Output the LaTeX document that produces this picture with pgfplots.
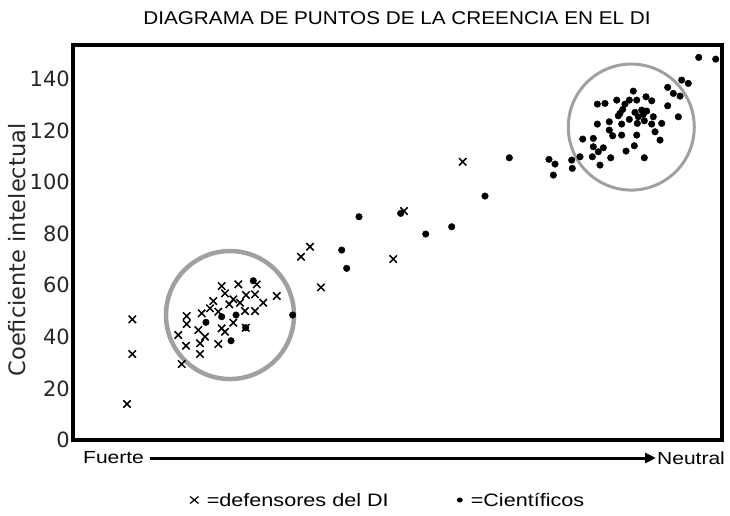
\documentclass[border=0pt]{standalone}
\usepackage{fontspec}
\setmainfont{Liberation Sans}
\newfontfamily\widesans[FakeStretch=1.2]{Liberation Sans}
\newfontfamily\titlesans[FakeStretch=1.12]{Liberation Sans}
\newfontfamily\dejavu{DejaVu Sans}
\usepackage{pgfplots}
\usepackage{pgfplotstable}
\pgfplotsset{compat=1.18}
\usetikzlibrary{arrows.meta}
\definecolor{circgray}{RGB}{160,160,160}

\pgfplotstableread{
x y
8.32 13.96
9.14 46.8
9.14 33.35
16.75 29.47
35.13 71.07
36.52 74.95
38.21 59.21
49.35 70.18
51.0 88.8
60.05 107.9
22.91 59.71
25.47 60.37
28.31 60.37
23.42 56.88
26.66 56.22
31.39 55.84
28.04 56.49
21.62 53.90
24.70 54.56
29.32 53.24
24.08 52.62
25.73 53.24
21.11 51.07
22.39 49.75
26.50 50.02
28.04 50.02
17.52 48.08
19.83 49.13
17.52 44.98
19.31 42.65
22.91 43.31
24.70 45.48
16.22 40.71
20.34 40.05
23.42 41.99
17.41 36.56
19.57 37.50
22.39 37.22
19.57 33.35
26.61 43.54
}\defensores

\pgfplotstableread{
x y
27.78 61.77
22.91 47.81
25.12 48.47
20.49 45.64
26.61 43.54
24.35 38.50
33.85 48.47
41.40 73.67
42.17 66.58
44.07 86.58
50.49 87.90
54.35 79.88
58.35 82.71
63.48 94.61
67.23 109.46
96.41 148.39
99.03 147.73
93.79 139.59
94.81 138.31
91.63 136.76
92.50 134.43
93.53 133.38
91.63 129.62
93.27 125.36
86.33 135.32
88.29 133.11
89.17 131.56
83.78 131.83
85.72 131.83
86.86 131.83
80.79 130.28
81.97 130.55
85.05 130.28
84.70 128.23
87.63 127.96
88.40 127.57
84.28 126.68
86.59 127.07
84.02 125.75
87.10 125.36
87.87 126.29
89.41 125.36
85.72 124.35
86.95 122.80
88.03 123.81
82.63 123.42
84.54 122.53
89.17 122.53
90.71 122.80
80.79 122.53
82.63 120.20
83.16 117.99
84.54 118.26
86.86 118.26
89.68 119.54
90.45 116.32
78.54 116.71
80.17 116.98
80.17 113.73
81.71 113.34
80.94 111.79
86.49 114.11
85.21 112.06
80.02 109.85
82.85 109.46
88.03 109.46
78.12 109.85
81.20 106.63
76.84 108.57
76.93 105.35
73.34 108.84
74.27 107.02
74.01 102.75
}\cientificos

\begin{document}
\begin{tikzpicture}
\path[use as bounding box] (-73pt,-75pt) rectangle (657pt,440pt);
\begin{axis}[
  at={(0pt,0pt)}, anchor=south west,
  scale only axis, width=649pt, height=395pt,
  xmin=0, xmax=100, ymin=0, ymax=153.2,
  axis line style={line width=4pt},
  xtick=\empty,
  ytick={0,20,...,140},
  major tick length=0pt,
  /pgf/number format/assume math mode=true,
  yticklabel style={font=\dejavu\fontsize{21}{21}\selectfont, color=black!85, inner xsep=3pt},
  ylabel={Coeficiente intelectual},
  ylabel style={font=\dejavu\fontsize{22.5}{22.5}\selectfont, color=black!85, at={(axis description cs:-0.0855,0.481)}, anchor=center},
  clip=false,
]
\addplot[only marks, mark=x, mark size=5.2pt, line width=1.5pt, black] table[x=x,y=y] {\defensores};
\addplot[only marks, mark=*, mark size=3.3pt, black] table[x=x,y=y] {\cientificos};
\draw[circgray, line width=4.5pt] (axis cs:24.19,48.47) circle[radius=64pt];
\draw[circgray, line width=3pt] (axis cs:86.02,121.37) circle[radius=63pt];
\end{axis}
\node[font=\titlesans\fontsize{18.5}{18.5}\selectfont] at (324pt,422pt) {DIAGRAMA DE PUNTOS DE LA CREENCIA EN EL DI};
\node[font=\widesans\fontsize{17.5}{17.5}\selectfont, anchor=west, inner sep=0pt] at (10pt,-18pt) {Fuerte};
\draw[line width=3pt, -{Triangle[length=11pt,width=10pt]}] (77pt,-18pt) -- (583pt,-18pt);
\node[font=\widesans\fontsize{17.5}{17.5}\selectfont, anchor=west, inner sep=0pt] at (584pt,-18pt) {Neutral};
\node[font=\widesans\fontsize{18}{18}\selectfont, anchor=west, inner sep=0pt] at (115pt,-60pt) {× =defensores del DI};
\node[font=\widesans\fontsize{18}{18}\selectfont, anchor=west, inner sep=0pt] at (383pt,-60pt) {•\hspace{7pt}=Científicos};
\end{tikzpicture}
\end{document}
